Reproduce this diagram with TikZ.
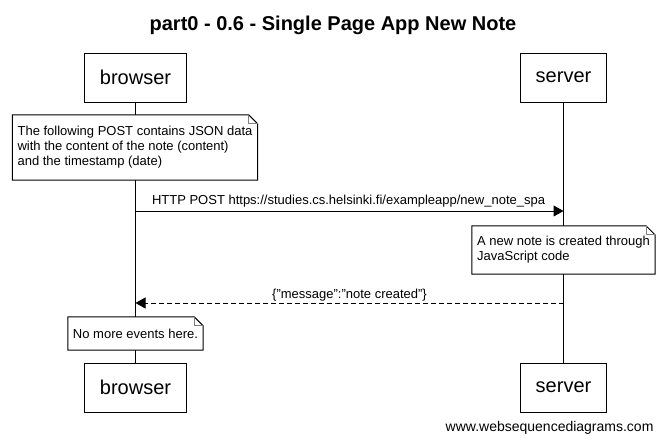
\documentclass[tikz,border=0pt]{standalone}
\usepackage{fontspec}
\setmainfont{Liberation Sans}
\usetikzlibrary{arrows.meta,positioning,calc}
\tikzset{
  actor/.style={draw, line width=1pt, fill=white, minimum height=49, inner xsep=15,
    font=\fontsize{20}{24}\selectfont},
  note/.style={align=left, inner xsep=5, inner ysep=0, font=\fontsize{13}{15}\selectfont},
  msglabel/.style={font=\fontsize{13}{15}\selectfont, inner sep=0},
  msg/.style={line width=1pt, -{Triangle[length=10pt,width=11pt]}},
}
% folded corner around a note node
\newcommand{\foldnote}[1]{%
  \filldraw[fill=white, line width=1pt] (#1.south west) -- (#1.north west)
    -- ([xshift=-9]#1.north east) -- ([yshift=-9]#1.north east) -- (#1.south east) -- cycle;
  \draw[gray, line width=1pt] ([xshift=-9]#1.north east) -- ([xshift=-9,yshift=-9]#1.north east)
    -- ([yshift=-9]#1.north east);
}

\begin{document}
\begin{tikzpicture}[x=1pt, y=-1pt]
	\useasboundingbox (0,0) rectangle (666,447);
	\node [font=\fontsize{20}{24}\selectfont\bfseries, anchor=base] (title) at (333,30.5) {part0 - 0.6 - Single Page App New Note};
	\node [actor] (bt) at (135.5,77.5) {browser};
	\node [actor] (st) at (563.5,77.5) {server};
	\node [actor] (bb) at (135.5,387.5) {browser};
	\node [actor] (sb) at (563.5,387.5) {server};
	\draw [line width=1pt] (bt) -- (bb);
	\draw [line width=1pt] (st) -- (sb);
	% notes
	\node [note, minimum height=65] (n1) at (135,147.5) {The following POST contains JSON data\\with the content of the note (content)\\and the timestamp (date)};
	\foldnote{n1}
	\node [note, minimum height=65] at (n1) {The following POST contains JSON data\\with the content of the note (content)\\and the timestamp (date)};
	% messages
	\coordinate (p1) at (bt |- 0,211);
	\coordinate (p2) at (st |- 0,211);
	\draw [msg] (p1) -- (p2) node [msglabel, pos=0, anchor=base west, xshift=16, yshift=7] (m1) {HTTP POST https://studies.cs.helsinki.fi/exampleapp/new\_note\_spa};
	\node [note, minimum height=48] (n2) at (563.5,250) {A new note is created through\\JavaScript code};
	\foldnote{n2}
	\node [note, minimum height=48] at (n2) {A new note is created through\\JavaScript code};
	\coordinate (r1) at (st |- 0,303);
	\coordinate (r2) at (bt |- 0,303);
	\draw [msg, dash pattern=on 5pt off 3pt] (r1) -- (r2) node [msglabel, midway, anchor=base, yshift=5] (m2) {\{"message":"note created"\}};
	\node [note, minimum height=33] (n3) at (135.5,333.5) {No more events here.};
	\foldnote{n3}
	\node [note, minimum height=33] at (n3) {No more events here.};
	\node [font=\fontsize{14}{16}\selectfont, anchor=base east] (site) at (657,431) {www.websequencediagrams.com};
\end{tikzpicture}
\end{document}
